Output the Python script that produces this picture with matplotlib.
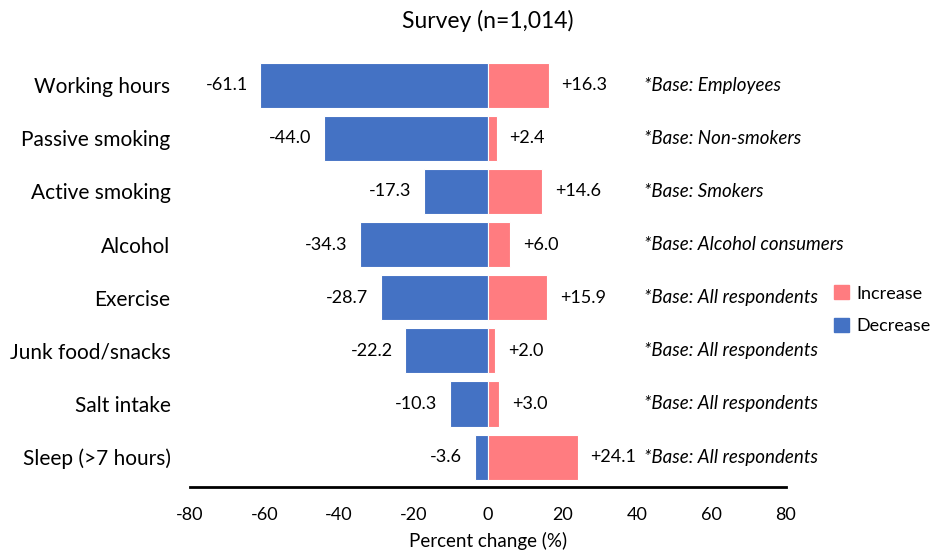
import matplotlib.pyplot as plt
from matplotlib.patches import Patch

categories = ['Working hours', 'Passive smoking', 'Active smoking', 'Alcohol',
              'Exercise', 'Junk food/snacks', 'Salt intake', 'Sleep (>7 hours)']
decrease = [-61.1, -44.0, -17.3, -34.3, -28.7, -22.2, -10.3, -3.6]
increase = [16.3, 2.4, 14.6, 6.0, 15.9, 2.0, 3.0, 24.1]
bases = ['Employees', 'Non-smokers', 'Smokers', 'Alcohol consumers',
         'All respondents', 'All respondents', 'All respondents', 'All respondents']
xticks = [-80, -60, -40, -20, 0, 20, 40, 60, 80]

blue = '#4472C4'
pink = '#FF7C80'

plt.rcParams['font.family'] = ['Lato', 'DejaVu Sans']

fig = plt.figure(figsize=(9.37, 5.53), dpi=100)
ax = fig.add_axes([190 / 937, 0.119, 596 / 937, 0.775])

y = list(range(len(categories)))
ax.barh(y, decrease, height=0.85, color=blue, edgecolor='white', linewidth=0.8)
ax.barh(y, increase, height=0.85, color=pink, edgecolor='white', linewidth=0.8)

for i in y:
    ax.annotate(f'{decrease[i]:.1f}', (decrease[i], i), xytext=(-9, 0),
                textcoords='offset points', ha='right', va='center', fontsize=13)
    ax.annotate(f'+{increase[i]:.1f}', (increase[i], i), xytext=(9, 0),
                textcoords='offset points', ha='left', va='center', fontsize=13)
    ax.text(42, i, f'*Base: {bases[i]}', ha='left', va='center',
            fontsize=13.5, style='italic')

ax.set_xlim(-80, 80)
ax.set_ylim(len(categories) - 1 + 0.566, -0.5)
ax.set_xticks(xticks)
ax.set_xticklabels([str(t) for t in xticks], fontsize=13)
ax.set_yticks(y)
ax.set_yticklabels(categories, fontsize=15)
ax.tick_params(axis='both', length=0)
ax.tick_params(axis='x', pad=14)
ax.tick_params(axis='y', pad=14)
for s in ['top', 'right', 'left']:
    ax.spines[s].set_visible(False)
ax.spines['bottom'].set_linewidth(2)
ax.set_xlabel('Percent change (%)', fontsize=13.5, labelpad=7)
ax.set_title('Survey (n=1,014)', fontsize=16.5, pad=22)

handles = [Patch(color=pink, label='Increase'), Patch(color=blue, label='Decrease')]
fig.legend(handles=handles, loc='center left', bbox_to_anchor=(0.877, 0.44),
           frameon=False, fontsize=13, handlelength=0.8, handleheight=0.8,
           handletextpad=0.4, labelspacing=0.9, borderpad=0.2)

fig.savefig('out.png', dpi=100)
